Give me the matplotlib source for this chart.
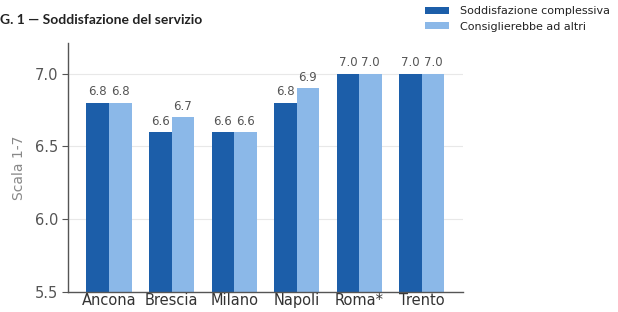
import matplotlib
matplotlib.use("Agg")
import matplotlib.pyplot as plt
import numpy as np

cities = ["Ancona", "Brescia", "Milano", "Napoli", "Roma*", "Trento"]
soddisfazione = [6.8, 6.6, 6.6, 6.8, 7.0, 7.0]
consiglierebbe = [6.8, 6.7, 6.6, 6.9, 7.0, 7.0]
series_names = ["Soddisfazione complessiva", "Consiglierebbe ad altri"]
yticks = [5.5, 6.0, 6.5, 7.0]

dark = "#1c5ea9"
light = "#8bb8e8"
gray = "#555555"

fig = plt.figure(figsize=(6.18, 3.12), dpi=100)
ax = fig.add_axes([0.110, 0.064, 0.639, 0.798])

x = np.arange(len(cities))
w = 0.36
b1 = ax.bar(x - w/2, soddisfazione, w, color=dark, label=series_names[0], zorder=2)
b2 = ax.bar(x + w/2, consiglierebbe, w, color=light, label=series_names[1], zorder=2)

for bars, vals in ((b1, soddisfazione), (b2, consiglierebbe)):
    for r, v in zip(bars, vals):
        ax.text(r.get_x() + r.get_width()/2, v + 0.03, f"{v:.1f}",
                ha="center", va="bottom", fontsize=8.5, color=gray)

ax.set_ylim(5.5, 7.21)
ax.set_xlim(-0.655, 5.655)
ax.set_yticks(yticks)
ax.set_yticklabels([f"{t:.1f}" for t in yticks], fontsize=10.5, color=gray)
ax.set_xticks(x)
ax.set_xticklabels(cities, fontsize=10.5, color="#333333")
ax.tick_params(axis="x", length=0, pad=1)
ax.tick_params(axis="y", length=4, color=gray, pad=3)
ax.set_ylabel("Scala 1-7", fontsize=10, color="#888888", labelpad=6)
ax.yaxis.grid(True, color="#e8e8e8", linewidth=0.8, zorder=0)
ax.set_axisbelow(True)
for s in ("top", "right"):
    ax.spines[s].set_visible(False)
for s in ("left", "bottom"):
    ax.spines[s].set_color(gray)
    ax.spines[s].set_linewidth(1.0)

fig.text(0.0, 0.935, "G. 1 \u2014 Soddisfazione del servizio", fontsize=10,
         fontweight="bold", family="Lato", color="#222222", ha="left", va="center")

fig.legend(handles=[b1, b2], labels=series_names, loc="upper left",
           bbox_to_anchor=(0.675, 1.005), frameon=False, fontsize=8,
           handlelength=2.2, handleheight=0.6, handletextpad=1.0,
           labelspacing=0.5, borderpad=0.2, labelcolor="#222222")

fig.savefig("out.png", dpi=100)
